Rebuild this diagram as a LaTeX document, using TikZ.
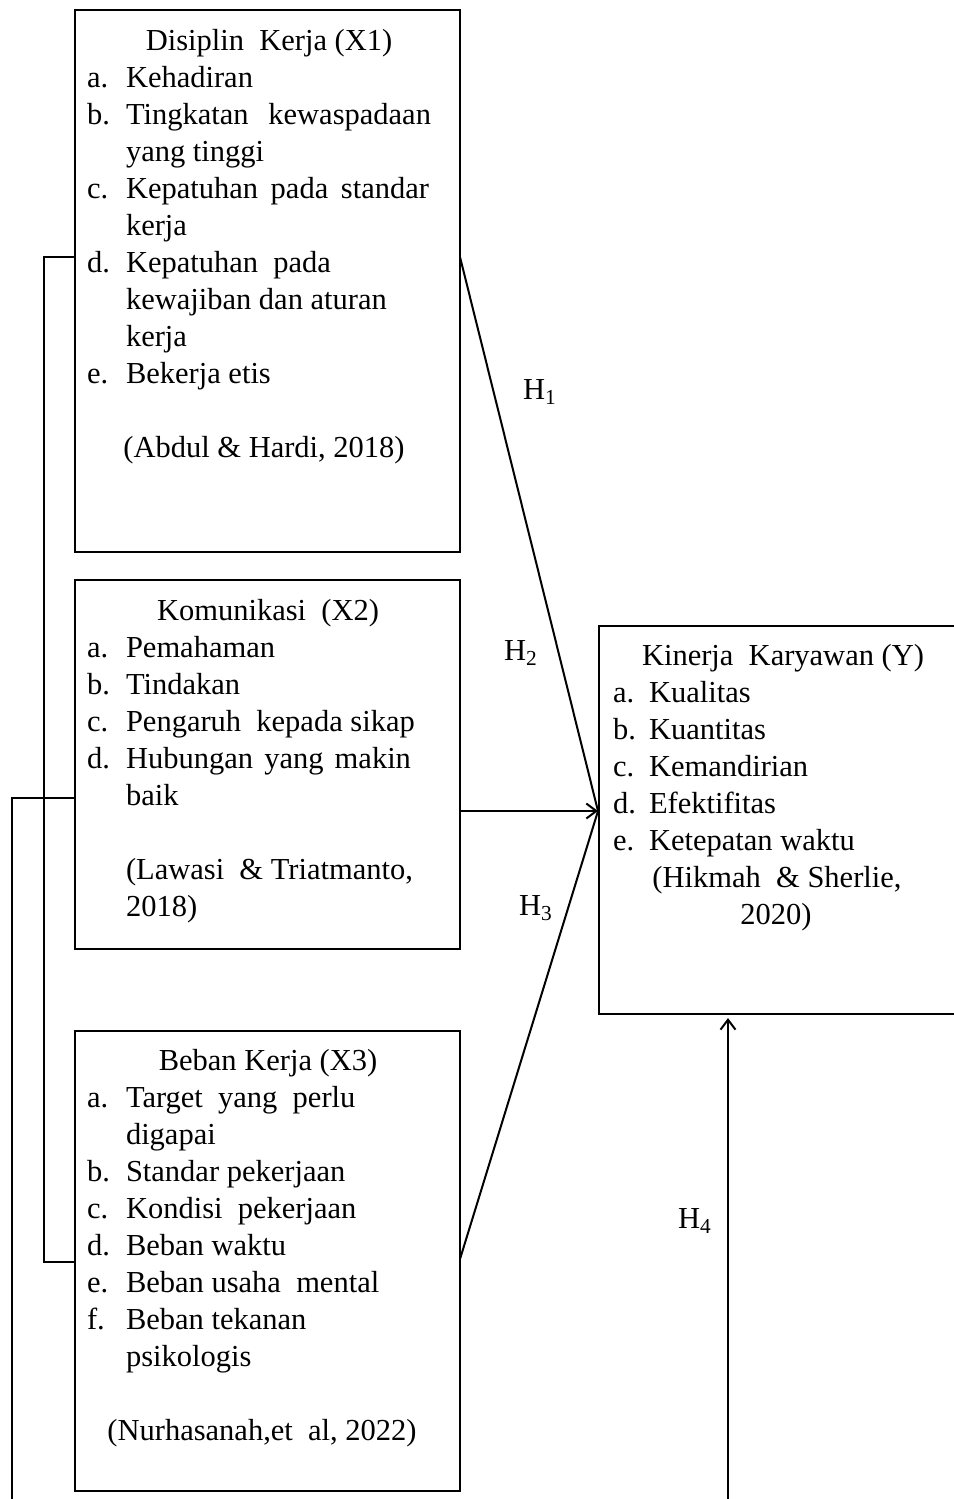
\documentclass[tikz,border=0pt]{standalone}
\usepackage{fontspec}
\setmainfont{Liberation Serif}
\usetikzlibrary{arrows.meta}
\begin{document}
\begin{tikzpicture}[x=1pt,y=-1pt,line width=2pt,
  box/.style={draw,rectangle,inner sep=0pt,line width=1.8pt},
  txt/.style={anchor=base west,inner sep=0pt,font=\fontsize{30.5}{37}\selectfont},
  ctxt/.style={anchor=base,inner sep=0pt,font=\fontsize{30.5}{37}\selectfont},
  hlab/.style={anchor=base west,inner sep=0pt,font=\fontsize{30.5}{37}\selectfont},
  arr/.style={-{Straight Barb[length=10pt,width=15pt,line width=2pt]}}]
\useasboundingbox (0,0) rectangle (953,1499);
\fill[white] (0,0) rectangle (953,1499);

% boxes
\node[box,minimum width=385pt,minimum height=542pt] (X1) at (267.5,281) {};
\node[box,minimum width=385pt,minimum height=369pt] (X2) at (267.5,764.5) {};
\node[box,minimum width=385pt,minimum height=460pt] (X3) at (267.5,1261) {};
\node[box,minimum width=361pt,minimum height=388pt] (Y) at (779.5,820) {};

% X1 text
\node[ctxt] (x1t) at (269,50) {Disiplin\ \ Kerja (X1)};
\node[txt] (x1al) at (86,87) {a.};  \node[txt] (x1a) at (125,87) {Kehadiran};
\node[txt] (x1bl) at (86,124) {b.}; \node[txt] (x1b) at (125,124) {\makebox[305pt][s]{Tingkatan kewaspadaan}};
\node[txt] (x1b2) at (125,161) {yang\ tinggi};
\node[txt] (x1cl) at (86,198) {c.}; \node[txt] (x1c) at (125,198) {\makebox[303pt][s]{Kepatuhan pada standar}};
\node[txt] (x1c2) at (125,235) {kerja};
\node[txt] (x1dl) at (86,272) {d.}; \node[txt] (x1d) at (125,272) {Kepatuhan\ \ pada};
\node[txt] (x1d2) at (125,309) {kewajiban\ dan aturan};
\node[txt] (x1d3) at (125,346) {kerja};
\node[txt] (x1el) at (86,383) {e.}; \node[txt] (x1e) at (125,383) {Bekerja etis};
\node[ctxt] (x1s) at (264,457) {(Abdul \& Hardi, 2018)};

% X2 text
\node[ctxt] (x2t) at (268,620) {Komunikasi\ \ (X2)};
\node[txt] (x2al) at (86,657) {a.}; \node[txt] (x2a) at (125,657) {Pemahaman};
\node[txt] (x2bl) at (86,694) {b.}; \node[txt] (x2b) at (125,694) {Tindakan};
\node[txt] (x2cl) at (86,731) {c.}; \node[txt] (x2c) at (125,731) {Pengaruh\ \ kepada sikap};
\node[txt] (x2dl) at (86,768) {d.}; \node[txt] (x2d) at (125,768) {\makebox[285pt][s]{Hubungan yang makin}};
\node[txt] (x2d2) at (125,805) {baik};
\node[txt] (x2s) at (125,879) {(Lawasi\ \ \& Triatmanto,};
\node[txt] (x2s2) at (125,916) {2018)};

% X3 text
\node[ctxt] (x3t) at (268,1070) {Beban\ Kerja (X3)};
\node[txt] (x3al) at (86,1107) {a.}; \node[txt] (x3a) at (125,1107) {Target\ \ yang\ \ perlu};
\node[txt] (x3a2) at (125,1144) {digapai};
\node[txt] (x3bl) at (86,1181) {b.}; \node[txt] (x3b) at (125,1181) {Standar pekerjaan};
\node[txt] (x3cl) at (86,1218) {c.}; \node[txt] (x3c) at (125,1218) {Kondisi\ \ pekerjaan};
\node[txt] (x3dl) at (86,1255) {d.}; \node[txt] (x3d) at (125,1255) {Beban waktu};
\node[txt] (x3el) at (86,1292) {e.}; \node[txt] (x3e) at (125,1292) {Beban usaha\ \ mental};
\node[txt] (x3fl) at (86,1329) {f.}; \node[txt] (x3f) at (125,1329) {Beban tekanan};
\node[txt] (x3f2) at (125,1366) {psikologis};
\node[ctxt] (x3s) at (262,1440) {(Nurhasanah,et\ \ al, 2022)};

% Y text
\node[ctxt] (yt) at (783,665) {Kinerja\ \ Karyawan\ (Y)};
\node[txt] (yal) at (612,702) {a.}; \node[txt] (ya) at (648,702) {Kualitas};
\node[txt] (ybl) at (612,739) {b.}; \node[txt] (yb) at (648,739) {Kuantitas};
\node[txt] (ycl) at (612,776) {c.}; \node[txt] (yc) at (648,776) {Kemandirian};
\node[txt] (ydl) at (612,813) {d.}; \node[txt] (yd) at (648,813) {Efektifitas};
\node[txt] (yel) at (612,850) {e.}; \node[txt] (ye) at (648,850) {Ketepatan waktu};
\node[ctxt] (ys) at (777,887) {(Hikmah\ \ \& Sherlie,};
\node[ctxt] (ys2) at (776,924) {2020)};

% hypothesis labels
\node[hlab] (h1) at (522,399) {H\textsubscript{1}};
\node[hlab] (h2) at (503,660) {H\textsubscript{2}};
\node[hlab] (h3) at (518,915) {H\textsubscript{3}};
\node[hlab] (h4) at (677,1228) {H\textsubscript{4}};

% connector coordinates
\coordinate (tip) at (598,811);
\coordinate (x1o) at (460,257);
\coordinate (x2o) at (460,811);
\coordinate (x3o) at (460,1259);
\coordinate (x1l) at (75,257);
\coordinate (x2l) at (75,798);
\coordinate (x3l) at (75,1262);
\coordinate (ib1) at (44,257);
\coordinate (ib2) at (44,1262);
\coordinate (ob1) at (12,798);
\coordinate (ob2) at (12,1499);
\coordinate (h4s) at (728,1499);
\coordinate (h4e) at (728,1018);

% connectors
\draw (x1o) -- (tip);
\draw (x3o) -- (tip);
\draw[arr] (x2o) -- (tip);
\draw[arr] (h4s) -- (h4e);
\draw (x1l) -- (ib1) -- (ib2) -- (x3l);
\draw (x2l) -- (ob1) -- (ob2);
\end{tikzpicture}
\end{document}
